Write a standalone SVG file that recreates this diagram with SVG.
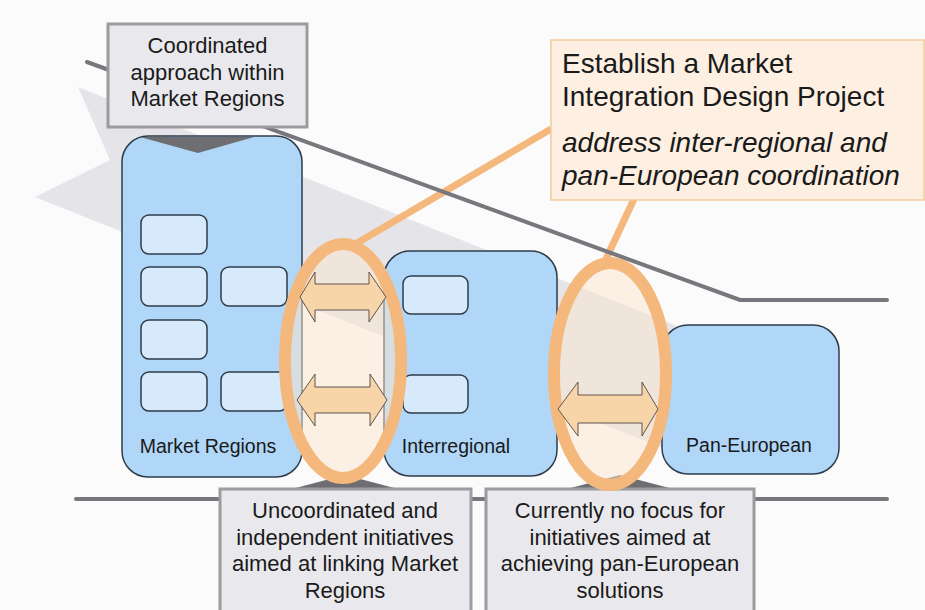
<svg xmlns="http://www.w3.org/2000/svg" width="925" height="610" viewBox="0 0 925 610">
<defs>
<style>
.t{font-family:"Liberation Sans",Arial,Helvetica,sans-serif;fill:#1a1a1a}
.c{text-anchor:middle}
.big{fill:#b0d7f8;stroke:#2e3c4a;stroke-width:1.5}
.small{fill:#d6eafc;stroke:#2e3c4a;stroke-width:1.5}
.gbox{fill:#e9e9ed;stroke:#9c9ca0;stroke-width:3}
.wedge{fill:#6e6e72}
.ell{fill:#fbe6cc;fill-opacity:0.5;stroke:#f5b87c;stroke-width:12}
.arr{fill:#f8d4a9;stroke:#5e554e;stroke-width:1}
.conn{stroke:#f5b87c;stroke-width:7;fill:none}
.rule{stroke:#77777d;stroke-width:4;fill:none;stroke-linecap:round}
</style>
</defs>
<rect x="0" y="0" width="925" height="610" fill="#fbfbfb"/>
<polygon id="band" points="78,87 722,344 726,334 790,435 674,464 678,454 35,197 110,160" fill="#e5e5e9"/>

<g id="market-regions">
<rect class="big" x="122" y="136" width="180" height="341" rx="26"/>
<rect class="small" x="141" y="215" width="66" height="39" rx="8"/>
<rect class="small" x="141" y="267" width="66" height="39" rx="8"/>
<rect class="small" x="221" y="267" width="66" height="39" rx="8"/>
<rect class="small" x="141" y="320" width="66" height="39" rx="8"/>
<rect class="small" x="141" y="372" width="66" height="39" rx="8"/>
<rect class="small" x="221" y="372" width="66" height="39" rx="8"/>
<text class="t c" x="208" y="453" font-size="19.5">Market Regions</text>
</g>
<g id="interregional">
<rect class="big" x="384" y="251" width="173" height="225" rx="26"/>
<rect class="small" x="403" y="276" width="65" height="38" rx="8"/>
<rect class="small" x="403" y="375" width="65" height="38" rx="8"/>
<text class="t c" x="456" y="453" font-size="19.5">Interregional</text>
</g>
<g id="pan-european">
<rect class="big" x="662" y="325" width="177" height="149" rx="26"/>
<text class="t c" x="749" y="452" font-size="19.5">Pan-European</text>
</g>

<line class="rule" x1="76" y1="499" x2="887" y2="499"/>
<polygon class="wedge" points="288,490 345,475 402,490"/>
<polygon class="wedge" points="563,490 620,475 677,490"/>

<g id="uncoordinated">
<rect class="gbox" x="220" y="489" width="251" height="130"/>
<text class="t c" font-size="22"><tspan x="345" y="518">Uncoordinated and</tspan><tspan x="345" y="544.5">independent initiatives</tspan><tspan x="345" y="571">aimed at linking Market</tspan><tspan x="345" y="597.5">Regions</tspan></text>
</g>
<g id="no-focus">
<rect class="gbox" x="486" y="489" width="268" height="130"/>
<text class="t c" font-size="22"><tspan x="620" y="518">Currently no focus for</tspan><tspan x="620" y="544.5">initiatives aimed at</tspan><tspan x="620" y="571">achieving pan-European</tspan><tspan x="620" y="597.5">solutions</tspan></text>
</g>

<g id="link-regional">
<ellipse class="ell" cx="343" cy="361" rx="58" ry="117"/>
<path class="arr" d="M300 297 L315 272 L315 284 L369 284 L369 272 L386 297 L369 322 L369 310 L315 310 L315 322 Z"/>
<path class="arr" d="M297 400 L315 374 L315 387 L370 387 L370 374 L387 400 L370 426 L370 413 L315 413 L315 426 Z"/>
</g>
<g id="link-paneuropean">
<ellipse class="ell" cx="610" cy="374" rx="56" ry="111"/>
<path class="arr" d="M558 409 L578 382 L578 395 L642 395 L642 382 L658 409 L642 436 L642 423 L578 423 L578 436 Z"/>
</g>

<g id="connectors">
<line class="conn" x1="551" y1="129" x2="352" y2="246"/>
<line class="conn" x1="634" y1="199" x2="606" y2="259"/>
</g>

<polyline id="trend" class="rule" points="87,62 740,300 887,300"/>

<g id="coordinated">
<rect class="gbox" x="108" y="24" width="199" height="103"/>
<text class="t c" font-size="22"><tspan x="207.5" y="53">Coordinated</tspan><tspan x="207.5" y="79.5">approach within</tspan><tspan x="207.5" y="106">Market Regions</tspan></text>
<polygon class="wedge" points="140,137 254,137 198,153"/>
</g>

<g id="mid-project">
<rect x="551" y="40" width="373" height="160" fill="#fdf0e2" stroke="#f3c99b" stroke-width="1.5"/>
<text class="t" font-size="28"><tspan x="562" y="73">Establish a Market</tspan><tspan x="562" y="106">Integration Design Project</tspan></text>
<text class="t" font-size="28" font-style="italic"><tspan x="562" y="152">address inter-regional and</tspan><tspan x="562" y="185">pan-European coordination</tspan></text>
</g>
</svg>
